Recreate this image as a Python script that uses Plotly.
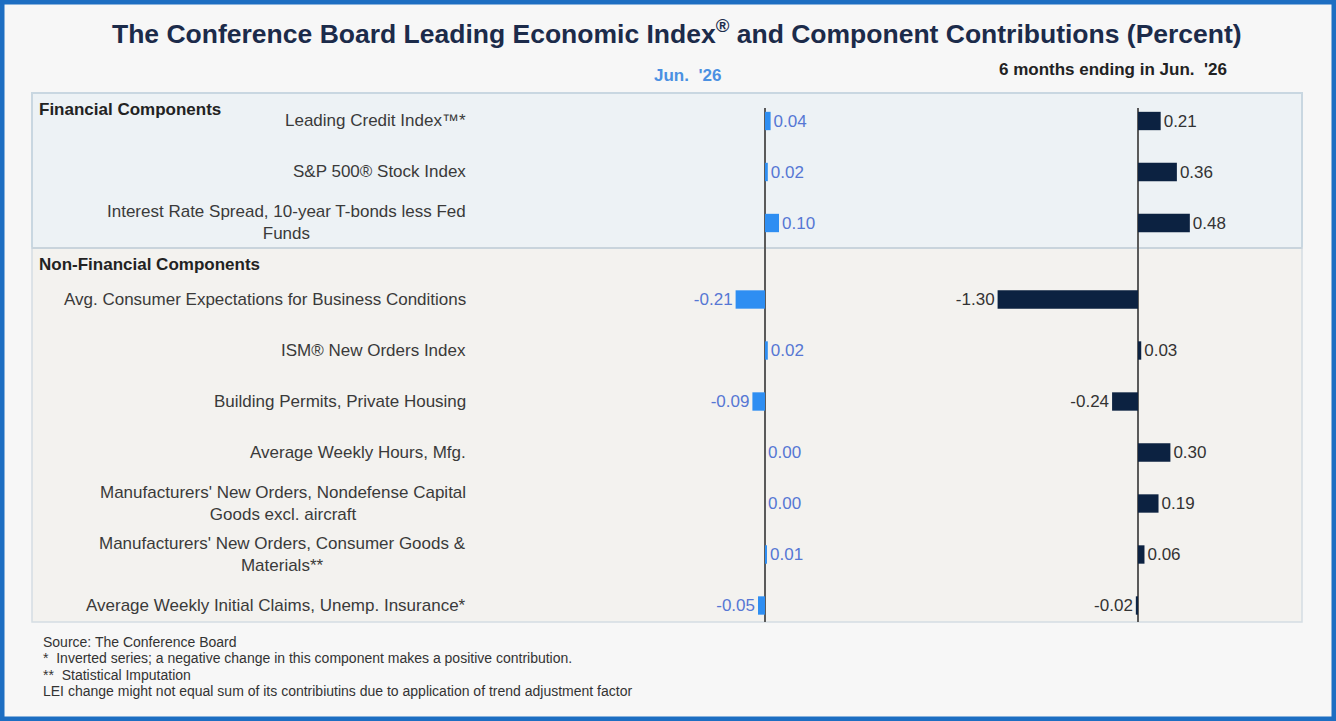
import plotly.graph_objects as go

# ------------------------------------------------------------------------
# Data
components = [
    "Leading Credit Index™*",
    "S&P 500® Stock Index",
    "Interest Rate Spread, 10-year T-bonds less Fed<br>Funds",
    "Avg. Consumer Expectations for Business Conditions",
    "ISM® New Orders Index",
    "Building Permits, Private Housing",
    "Average Weekly Hours, Mfg.",
    "Manufacturers' New Orders, Nondefense Capital<br>Goods excl. aircraft",
    "Manufacturers' New Orders, Consumer Goods &<br>Materials**",
    "Average Weekly Initial Claims, Unemp. Insurance*",
]
groups = ["Financial"] * 3 + ["Non-Financial"] * 7
group_titles = ["Financial Components", "Non-Financial Components"]
jun_values = [0.04, 0.02, 0.10, -0.21, 0.02, -0.09, 0.00, 0.00, 0.01, -0.05]
six_month_values = [0.21, 0.36, 0.48, -1.30, 0.03, -0.24, 0.30, 0.19, 0.06, -0.02]
footnotes = [
    "Source: The Conference Board",
    "*  Inverted series; a negative change in this component makes a positive contribution.",
    "**  Statistical Imputation",
    "LEI change might not equal sum of its contribiutins due to application of trend adjustment factor",
]

W, H = 1336, 721
FONT = "Liberation Sans, Arial, sans-serif"


def px_x(p):
    return p / W


def px_y(p):
    return 1 - p / H


# half a row of extra space before the second group (its header sits there)
y_pos = []
for i, g in enumerate(groups):
    y_pos.append(i + (0.5 if g != groups[0] else 0))

ROW_PX = 51        # pixels per row
ROW0_PX = 121      # pixel of first row
LEFT_ZERO, LEFT_SCALE = 765, 140
RIGHT_ZERO, RIGHT_SCALE = 1138, 108
PLOT_TOP, PLOT_BOTTOM = 108, 622

fig = go.Figure()
fig.add_trace(go.Bar(
    x=jun_values, y=y_pos, orientation="h", width=0.36,
    marker=dict(color="#2e8ef2", line_width=0),
    text=[f"{v:.2f}" for v in jun_values], textposition="outside", constraintext="none",
    textfont=dict(family=FONT, size=17, color="#5677d4"),
    cliponaxis=False, xaxis="x", yaxis="y", hoverinfo="skip"))
fig.add_trace(go.Bar(
    x=six_month_values, y=y_pos, orientation="h", width=0.36,
    marker=dict(color="#0c2241", line_width=0),
    text=[f"{v:.2f}" for v in six_month_values], textposition="outside", constraintext="none",
    textfont=dict(family=FONT, size=17, color="#333333"),
    cliponaxis=False, xaxis="x2", yaxis="y", hoverinfo="skip"))

# component labels
annotations = []
for lab, y in zip(components, y_pos):
    annotations.append(dict(x=px_x(468), xref="paper", y=y, yref="y", text=lab,
                            xanchor="right", yanchor="middle", align="center", showarrow=False,
                            font=dict(family=FONT, size=17, color="#3a3a3a")))

# group headers
for title, top in zip(group_titles, [93, 248]):
    annotations.append(dict(x=px_x(37), xref="paper", y=px_y(top + 5), yref="paper", text=f"<b>{title}</b>",
                            xanchor="left", yanchor="top", showarrow=False,
                            font=dict(family=FONT, size=17, color="#222222")))

annotations += [
    dict(x=px_x(677), y=px_y(32), xref="paper", yref="paper",
         text="<b>The Conference Board Leading Economic Index<sup>®</sup> and Component Contributions (Percent)</b>",
         showarrow=False, xanchor="center", yanchor="middle",
         font=dict(family=FONT, size=26.5, color="#1c2b4a")),
    dict(x=px_x(687), y=px_y(76), xref="paper", yref="paper", text="<b>Jun.  '26</b>",
         showarrow=False, xanchor="center", yanchor="middle",
         font=dict(family=FONT, size=17, color="#4a90e2")),
    dict(x=px_x(1113), y=px_y(70), xref="paper", yref="paper", text="<b>6 months ending in Jun.  '26</b>",
         showarrow=False, xanchor="center", yanchor="middle",
         font=dict(family=FONT, size=17, color="#222222")),
]
for i, note in enumerate(footnotes):
    annotations.append(dict(x=px_x(41), y=px_y(642 + i * 16.3), xref="paper", yref="paper", text=note,
                            showarrow=False, xanchor="left", yanchor="middle",
                            font=dict(family=FONT, size=14, color="#333333")))

shapes = [
    # financial band
    dict(type="rect", xref="paper", yref="paper", x0=px_x(32), x1=px_x(1302), y0=px_y(248), y1=px_y(93),
         fillcolor="#edf2f5", line=dict(color="#c9d7e1", width=2), layer="below"),
    # non-financial band
    dict(type="rect", xref="paper", yref="paper", x0=px_x(32), x1=px_x(1302), y0=px_y(622), y1=px_y(248),
         fillcolor="#f3f2ef", line=dict(color="#d5dde3", width=1.5), layer="below"),
    dict(type="line", xref="paper", yref="paper", x0=px_x(32), x1=px_x(1302), y0=px_y(248), y1=px_y(248),
         line=dict(color="#c9d4dc", width=2), layer="below"),
    # outer blue frame
    dict(type="rect", xref="paper", yref="paper", x0=0, x1=1, y0=0, y1=1,
         line=dict(color="#1d6ec2", width=9), fillcolor="rgba(0,0,0,0)"),
]

axis_common = dict(showgrid=False, showticklabels=False, ticks="", showline=False,
                   zeroline=True, zerolinecolor="#5a5a5a", zerolinewidth=1.5, fixedrange=True)

fig.update_layout(
    width=W, height=H,
    margin=dict(l=0, r=0, t=0, b=0),
    paper_bgcolor="#f7f7f7",
    plot_bgcolor="rgba(0,0,0,0)",
    showlegend=False,
    barmode="overlay",
    xaxis=dict(domain=[px_x(480), px_x(900)], anchor="y",
               range=[(480 - LEFT_ZERO) / LEFT_SCALE, (900 - LEFT_ZERO) / LEFT_SCALE], **axis_common),
    xaxis2=dict(domain=[px_x(960), px_x(1300)], anchor="y",
                range=[(960 - RIGHT_ZERO) / RIGHT_SCALE, (1300 - RIGHT_ZERO) / RIGHT_SCALE], **axis_common),
    yaxis=dict(domain=[px_y(PLOT_BOTTOM), px_y(PLOT_TOP)],
               range=[(PLOT_BOTTOM - ROW0_PX) / ROW_PX, (PLOT_TOP - ROW0_PX) / ROW_PX],
               showgrid=False, showticklabels=False, zeroline=False, showline=False, fixedrange=True),
    annotations=annotations,
    shapes=shapes,
)

# the page's default body margin would push the figure 8px off the window edge
fig.write_html("out.html", config={"displayModeBar": False},
               post_script="document.body.style.margin='0';")
